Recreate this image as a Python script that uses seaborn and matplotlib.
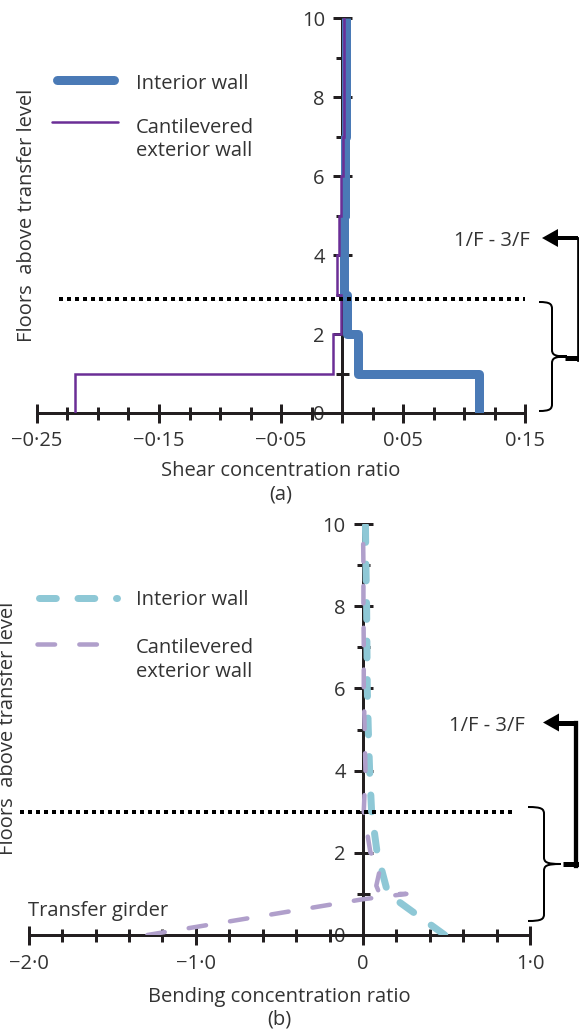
import matplotlib
matplotlib.use("Agg")
import matplotlib.pyplot as plt
import numpy as np
import pandas as pd
import seaborn as sns
from matplotlib.path import Path
from matplotlib.patches import PathPatch, Polygon
from matplotlib.lines import Line2D
from matplotlib.ticker import FixedLocator, MultipleLocator

# ---------------- data ----------------
# (a) shear concentration ratio, one value per storey band (floor i -> i+1)
floor_bands = [0, 1, 2, 3, 4, 5, 6, 7, 8, 9]
shear_interior = [0.112, 0.013, 0.004, 0.002, 0.002, 0.0025, 0.0025, 0.0033, 0.0033, 0.0033]
shear_exterior = [-0.219, -0.0075, -0.0008, -0.0042, -0.0022, -0.0008, 0.0005, 0.0013, 0.0013, 0.0013]

# (b) bending concentration ratio (listed from the transfer level upwards)
bend_interior_floor = [0, 1, 2, 3, 4, 5, 6, 7, 8, 9, 10]
bend_interior = [0.49, 0.15, 0.085, 0.052, 0.04, 0.032, 0.026, 0.024, 0.022, 0.018, 0.015]
bend_exterior_floor = [0, 0.87, 1.0, 1.0, 1.2, 1.75, 2, 3, 4, 5, 6, 7, 8, 9, 10]
bend_exterior = [-1.29, 0.0, 0.26, 0.10, 0.08, 0.11, 0.045, 0.005, 0.015, 0.01, 0.005, 0.005, 0.003, 0.003, 0.0]

# axes ticks / labels
floor_ticks = [0, 2, 4, 6, 8, 10]
shear_major = [-0.25, -0.15, -0.05, 0.0, 0.05, 0.15]
shear_labels = ["\u22120\u00b725", "\u22120\u00b715", "\u22120\u00b705", "", "0\u00b705", "0\u00b715"]
bend_major = [-2.0, -1.0, 0.0, 1.0]
bend_labels = ["\u22122\u00b70", "\u22121\u00b70", "0", "1\u00b70"]

# transfer-zone reference lines (floor level, x extent)
zone_a_floor = 2.9
zone_a_x = [-0.232, 0.15]
zone_b_floor = 3.0
zone_b_x = [-2.05, 0.9]

series_labels = ["Interior wall", "Cantilevered", "exterior wall"]

# ---------------- styling ----------------
sns.set_style("white")
plt.rcParams["font.family"] = ["Open Sans", "DejaVu Sans"]

W, H = 579.0, 1030.0
def fx(px): return px / W
def fy(py): return 1 - py / H
def pt(px): return px * 72.0 / 100.0

BLUE_A = "#4a7ab6"
PURPLE_A = "#6b2e96"
BLUE_B = "#8ec8d6"
PURPLE_B = "#b09fcb"
AXIS = "#231f20"
TXT = "#333333"
FS = 14.5

fig = plt.figure(figsize=(W / 100, H / 100), dpi=100)
ax_a = fig.add_axes([fx(37), fy(413), 488 / W, (413 - 18.3) / H])
ax_b = fig.add_axes([fx(28.8), fy(935), 501.2 / W, 411 / H])


def steps(vals, bands):
    xs, ys = [], []
    for b, v in zip(bands, vals):
        xs += [v, v]
        ys += [b, b + 1]
    return pd.DataFrame({"ratio": xs, "floor": ys})


def style_axes(ax, xlim, xmajor, xlabels, xminor, xpad):
    ax.set_xlim(xlim)
    ax.set_ylim(0, 10)
    ax.set_facecolor("none")
    sns.despine(ax=ax)
    ax.spines["left"].set_position(("data", 0))
    for s in ("left", "bottom"):
        ax.spines[s].set_linewidth(pt(3))
        ax.spines[s].set_color(AXIS)
        ax.spines[s].set_zorder(2)
    ax.xaxis.set_major_locator(FixedLocator(xmajor))
    ax.set_xticklabels(xlabels)
    ax.xaxis.set_minor_locator(MultipleLocator(xminor))
    ax.yaxis.set_major_locator(FixedLocator(floor_ticks))
    ax.set_yticklabels([str(v) for v in floor_ticks])
    ax.yaxis.set_minor_locator(MultipleLocator(1))
    ax.tick_params(which="both", bottom=True, left=True, top=False, right=False)
    ax.tick_params(which="major", direction="inout", length=pt(19), width=pt(3),
                   color=AXIS, labelsize=FS, labelcolor=TXT)
    ax.tick_params(which="minor", direction="inout", length=pt(13), width=pt(3), color=AXIS)
    ax.tick_params(axis="x", which="major", pad=xpad)
    ax.tick_params(axis="y", which="major", pad=5.5)


# ---------------- panel (a) ----------------
sns.lineplot(data=steps(shear_interior, floor_bands), x="ratio", y="floor", sort=False,
             estimator=None, color=BLUE_A, linewidth=pt(9), solid_joinstyle="round",
             solid_capstyle="butt", ax=ax_a, zorder=3)
sns.lineplot(data=steps(shear_exterior, floor_bands), x="ratio", y="floor", sort=False,
             estimator=None, color=PURPLE_A, linewidth=pt(2.5), solid_joinstyle="miter",
             ax=ax_a, zorder=4)
ax_a.plot(zone_a_x, [zone_a_floor, zone_a_floor], color="black", linewidth=pt(4),
          linestyle=(0, (1, 1)), dash_capstyle="butt", zorder=5, clip_on=False)
style_axes(ax_a, (-0.25, 0.15), shear_major, shear_labels, 0.025, 6.0)
ax_a.set_xlabel("Shear concentration ratio\n(a)", fontsize=FS, color=TXT, linespacing=1.2)
ax_a.xaxis.set_label_coords(0.5, (413 - 461.5) / (413 - 18.3))
ax_a.set_ylabel("Floors  above transfer level", fontsize=FS, color=TXT)
ax_a.yaxis.set_label_coords((37.5 - 37) / 488, (413 - 215) / (413 - 18.3))

# ---------------- panel (b) ----------------
sns.lineplot(x=bend_interior, y=bend_interior_floor, sort=False, estimator=None,
             color=BLUE_B, linewidth=pt(7), linestyle=(0, (2.4, 3.1)),
             dash_capstyle="round", ax=ax_b, zorder=3)
sns.lineplot(x=bend_exterior, y=bend_exterior_floor, sort=False, estimator=None,
             color=PURPLE_B, linewidth=pt(4.5), linestyle=(0, (3.9, 5.4)),
             dash_capstyle="round", ax=ax_b, zorder=4)
ax_b.plot(zone_b_x, [zone_b_floor, zone_b_floor], color="black", linewidth=pt(4),
          linestyle=(0, (1, 1)), dash_capstyle="butt", zorder=5, clip_on=False)
style_axes(ax_b, (-2.0, 1.0), bend_major, bend_labels, 0.2, 7.0)
ax_b.set_xlabel("Bending concentration ratio\n(b)", fontsize=FS, color=TXT, linespacing=1.2)
ax_b.xaxis.set_label_coords(0.5, (935 - 987) / 411)
ax_b.set_ylabel("Floors  above transfer level", fontsize=FS, color=TXT)
ax_b.yaxis.set_label_coords((18 - 28.8) / 501.2, (935 - 728) / 411)

# ---------------- legends (drawn by hand, figure pixel coords) ----------------
def fig_line(xs, ys, **kw):
    fig.add_artist(Line2D([fx(x) for x in xs], [fy(y) for y in ys],
                          transform=fig.transFigure, **kw))

def fig_text(x, y, s, **kw):
    kw.setdefault("fontsize", FS)
    kw.setdefault("color", TXT)
    fig.text(fx(x), fy(y), s, **kw)

# (a)
fig_line([56.5, 113.5], [80, 80], color=BLUE_A, linewidth=pt(9), solid_capstyle="round")
fig_line([52, 118], [122, 122], color=PURPLE_A, linewidth=pt(2.5))
fig_text(136, 89.3, series_labels[0], va="baseline")
fig_text(136, 132.7, series_labels[1], va="baseline")
fig_text(136, 156, series_labels[2], va="baseline")
# (b)
fig_line([38.5, 117], [597.7, 597.7], color=BLUE_B, linewidth=pt(7),
         linestyle=(0, (2.4, 3.1)), dash_capstyle="round")
fig_line([37.3, 99.5], [644.3, 644.3], color=PURPLE_B, linewidth=pt(4.5),
         linestyle=(0, (3.9, 5.4)), dash_capstyle="round")
fig_text(136, 605, series_labels[0], va="baseline")
fig_text(136, 652.7, series_labels[1], va="baseline")
fig_text(136, 676.7, series_labels[2], va="baseline")

fig_text(27.7, 915.7, "Transfer girder", va="baseline", ha="left")

# ---------------- braces and arrows ----------------
def brace(x_left, x_mid, x_tip, y_top, y_bot, lw):
    ym = (y_top + y_bot) / 2
    r = 7
    pts = [(x_left, y_top), (x_mid - 2, y_top), (x_mid, y_top + 2), (x_mid, y_top + r),
           (x_mid, ym - r),
           (x_mid, ym - 2), (x_mid + 2, ym), (x_tip, ym),
           (x_mid + 2, ym), (x_mid, ym + 2), (x_mid, ym + r),
           (x_mid, y_bot - r),
           (x_mid, y_bot - 2), (x_mid - 2, y_bot), (x_left, y_bot)]
    C, L = Path.CURVE4, Path.LINETO
    codes = [Path.MOVETO, C, C, C, L, C, C, C, C, C, C, L, C, C, C]
    path = Path([(fx(x), fy(y)) for x, y in pts], codes)
    fig.add_artist(PathPatch(path, facecolor="none", edgecolor="black",
                             linewidth=pt(lw), transform=fig.transFigure))

def arrow(x_start, y_bar, y_arrow, x_tip, vlw, blw):
    fig_line([x_start - 13, 580], [y_bar, y_bar], color="black", linewidth=pt(5),
             solid_capstyle="butt")
    fig_line([x_start, x_start], [y_bar + 2, y_arrow], color="black", linewidth=pt(vlw),
             solid_capstyle="projecting")
    fig_line([x_start, x_tip + 14], [y_arrow, y_arrow], color="black", linewidth=pt(blw),
             solid_capstyle="butt")
    head = Polygon([(fx(x_tip), fy(y_arrow)), (fx(x_tip + 16), fy(y_arrow - 9)),
                    (fx(x_tip + 16), fy(y_arrow + 9))], closed=True,
                   facecolor="black", edgecolor="none", transform=fig.transFigure)
    fig.add_artist(head)

brace(539, 552, 567, 302, 411, 2)
arrow(578, 358, 238, 542, 2.7, 4)
fig_text(530, 246, "1/F - 3/F", va="baseline", ha="right")

brace(528, 544, 561, 807, 921, 2)
arrow(576, 863.5, 722.5, 543, 4.3, 5)
fig_text(525, 731, "1/F - 3/F", va="baseline", ha="right")

fig.savefig("out.png", dpi=100)
